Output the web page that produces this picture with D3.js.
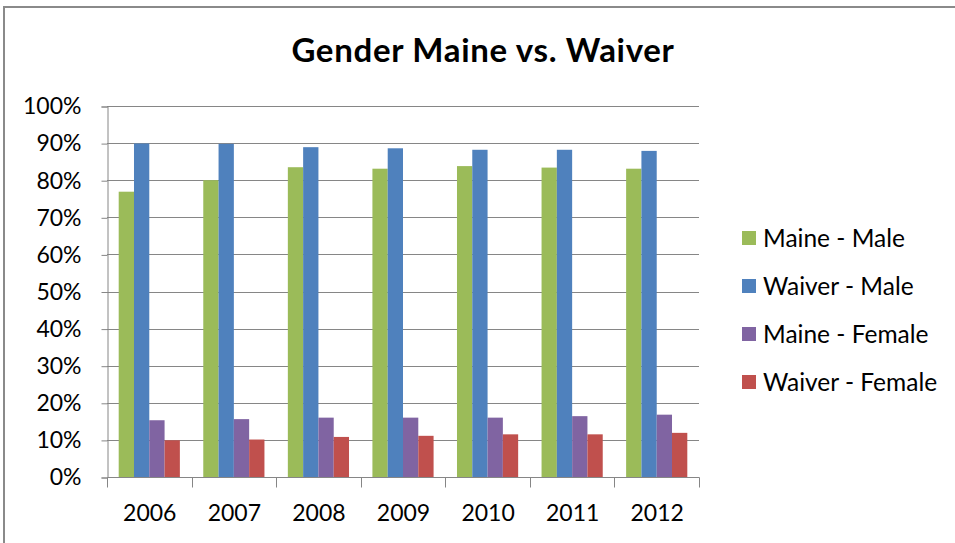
<!DOCTYPE html>
<html>
<head>
<meta charset="utf-8">
<script src="https://cdn.jsdelivr.net/npm/d3@7"></script>
<style>
  html, body { margin: 0; padding: 0; background: #fff; }
  svg { display: block; font-family: Lato, "Open Sans", sans-serif; }
</style>
</head>
<body>
<svg id="chart" width="955" height="543"></svg>
<script>
const title = "Gender Maine vs. Waiver";
const years = ["2006", "2007", "2008", "2009", "2010", "2011", "2012"];
const seriesNames = ["Maine - Male", "Waiver - Male", "Maine - Female", "Waiver - Female"];
const seriesColors = ["#9BBB59", "#4F81BD", "#8064A2", "#C0504D"];
const maineMale = [0.769, 0.800, 0.835, 0.831, 0.838, 0.834, 0.831];
const waiverMale = [0.899, 0.898, 0.889, 0.886, 0.882, 0.882, 0.879];
const maineFemale = [0.153, 0.156, 0.160, 0.160, 0.160, 0.164, 0.168];
const waiverFemale = [0.099, 0.101, 0.108, 0.111, 0.115, 0.115, 0.119];
const yTicks = [0, 0.1, 0.2, 0.3, 0.4, 0.5, 0.6, 0.7, 0.8, 0.9, 1.0];

const seriesValues = [maineMale, waiverMale, maineFemale, waiverFemale];

const svg = d3.select("#chart");
const plot = { left: 107, right: 699, top: 106, bottom: 477 };
const grey = "#868686";

// outer border (right/bottom edges outside the view)
svg.append("rect")
  .attr("x", 4).attr("y", 7)
  .attr("width", 960).attr("height", 560)
  .attr("fill", "none").attr("stroke", "#8a8a8a").attr("stroke-width", 2);

// title
svg.append("text")
  .attr("x", 483).attr("y", 62)
  .attr("text-anchor", "middle")
  .attr("font-weight", "bold")
  .attr("font-size", 33)
  .attr("letter-spacing", 0.7)
  .attr("fill", "#000")
  .text(title);

const x0 = d3.scaleBand().domain(years).range([plot.left, plot.right]).paddingInner(0).paddingOuter(0);
const x1 = d3.scaleBand().domain(d3.range(seriesNames.length)).range([0, x0.bandwidth()])
  .paddingInner(0).paddingOuter(0.765);
const y = d3.scaleLinear().domain([0, 1]).range([plot.bottom, plot.top]);

// gridlines
svg.append("g").selectAll("line").data(yTicks.filter(d => d > 0)).join("line")
  .attr("x1", plot.left).attr("x2", plot.right)
  .attr("y1", d => Math.round(y(d)) + 0.5).attr("y2", d => Math.round(y(d)) + 0.5)
  .attr("stroke", grey).attr("stroke-width", 1);

// bars
const groups = svg.append("g").selectAll("g").data(years).join("g")
  .attr("transform", d => `translate(${x0(d)},0)`);
groups.selectAll("rect")
  .data((d, i) => seriesValues.map((vals, s) => ({ s, v: vals[i] })))
  .join("rect")
  .attr("x", d => x1(d.s))
  .attr("width", x1.bandwidth())
  .attr("y", d => y(d.v))
  .attr("height", d => y(0) - y(d.v))
  .attr("fill", d => seriesColors[d.s]);

// y axis
const yAxis = d3.axisLeft(y).tickValues(yTicks).tickFormat(d3.format(".0%")).tickSize(6).tickPadding(20);
const gy = svg.append("g").attr("transform", `translate(${plot.left + 0.5},0.5)`).call(yAxis);
gy.select(".domain").attr("stroke", grey);
gy.selectAll(".tick line").attr("stroke", grey);
gy.selectAll(".tick text").attr("font-size", 23).attr("font-family", "Lato, sans-serif").attr("fill", "#000");

// x axis with boundary ticks
const gx = svg.append("g").attr("transform", `translate(0.5,${plot.bottom + 0.5})`);
gx.append("line").attr("x1", plot.left).attr("x2", plot.right).attr("stroke", grey);
const bounds = years.map(d => x0(d)).concat([plot.right]);
gx.selectAll("line.tk").data(bounds).join("line").attr("class", "tk")
  .attr("x1", d => Math.round(d)).attr("x2", d => Math.round(d))
  .attr("y1", 0).attr("y2", 10).attr("stroke", grey);
gx.selectAll("text").data(years).join("text")
  .attr("x", d => x0(d) + x0.bandwidth() / 2)
  .attr("y", 43)
  .attr("text-anchor", "middle")
  .attr("font-size", 23)
  .attr("fill", "#000")
  .text(d => d);

// legend
const legend = svg.append("g").selectAll("g").data(seriesNames).join("g")
  .attr("transform", (d, i) => `translate(742,${238 + i * 48})`);
legend.append("rect").attr("x", 0).attr("y", -7).attr("width", 14).attr("height", 14)
  .attr("fill", (d, i) => seriesColors[i]);
legend.append("text").attr("x", 21).attr("y", 0).attr("dy", "0.35em")
  .attr("font-size", 24.5).attr("fill", "#000").text(d => d);
</script>
</body>
</html>
